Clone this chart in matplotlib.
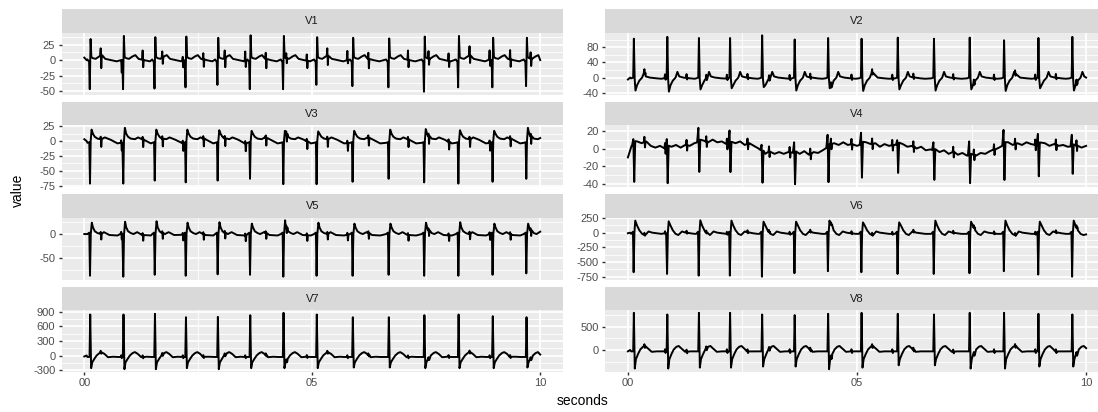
import numpy as np
import matplotlib
matplotlib.use("Agg")
import matplotlib.pyplot as plt
from matplotlib.ticker import FixedLocator

plt.rcParams['font.family'] = ['Liberation Sans', 'DejaVu Sans']

T_END = 10.0
# times (s) of the large (maternal) beats, common to all leads
beat_times = [0.13, 0.86, 1.55, 2.23, 2.93, 3.64, 4.37, 5.10, 5.89, 6.68, 7.46, 8.21, 8.96, 9.70]
# times (s) of the small (fetal) beats
fetal_times = [0.36, 0.81, 1.28, 1.71, 2.16, 2.61, 3.08, 3.53, 3.98, 4.43, 4.88, 5.33,
               5.77, 6.23, 6.66, 7.10, 7.55, 7.99, 8.45, 8.89, 9.34, 9.79]

leads = ["V1", "V2", "V3", "V4", "V5", "V6", "V7", "V8"]
x_ticks = [0, 5, 10]
x_labels = ["00", "05", "10"]

# ---- V1
v1_hi = [34, 39, 37, 38, 36, 40, 39, 37, 36, 35, 38, 39, 36, 36]
v1_lo = [-47, -47, -46, -44, -40, -47, -47, -40, -42, -44, -51, -44, -44, -42]
v1_shape_dt = [-0.06, -0.025, -0.01, 0.008, 0.025, 0.06, 0.12, 0.2, 0.26, 0.33, 0.45, 0.58]
v1_shape_v = [1, -3, "lo", "hi", 5, 3, 2, 6, 8, 2, 0, -2]
v1_f_up = [12, 0, 15, 10, 5, 10, 12, 15, 10, 8, 10, 12, 15, 10, 8, 15, 12, 12, 15, 15, 15, 10]
v1_f_dn = [-20, -20, -12, -10, -12, -12, -15, -10, -15, -8, -12, -15, -5, -15, -8, -12, -10, -10, -12, -10, -12, -12]
v1_knot_t = [0.0, 0.05, 9.97, 10.0]
v1_knot_v = [4, 0, 0, 0]
v1_ticks = [-50, -25, 0, 25]

# ---- V2
v2_hi = [102, 107, 104, 104, 111, 100, 104, 102, 105, 102, 105, 98, 104, 107]
v2_lo = [-34, -37, -31, -28, -25, -34, -28, -35, -31, -34, -31, -35, -28, -34]
v2_shape_dt = [-0.06, -0.015, 0.0, 0.018, 0.035, 0.07, 0.12, 0.18, 0.22, 0.26, 0.35, 0.5, 0.6]
v2_shape_v = [-2, 0, "hi", -5, "lo", -20, -8, 0, 15, 3, 0, -2, -3]
v2_f_up = 10
v2_f_dn = -4
v2_knot_t = [0.0, 0.05, 9.97, 10.0]
v2_knot_v = [-5, 0, 0, 0]
v2_ticks = [-40, 0, 40, 80]

# ---- V3
v3_hi = [19, 22, 19, 19, 18, 17, 17, 16, 17, 19, 20, 18, 17, 22]
v3_lo = [-71, -71, -66, -69, -66, -63, -72, -72, -68, -63, -69, -71, -68, -63]
v3_shape_dt = [-0.06, -0.02, -0.005, 0.01, 0.03, 0.06, 0.1, 0.16, 0.25, 0.32, 0.45, 0.6]
v3_shape_v = [-3, -2, "lo", 0, "hi", 12, 7, 4, 3, 6, 2, -4]
v3_f_up = 4
v3_f_dn = -13
v3_knot_t = [0.0, 0.05, 9.97, 10.0]
v3_knot_v = [3, 0, 0, 5]
v3_ticks = [-75, -50, -25, 0, 25]

# ---- V4
v4_hi = [6, 10, 16, 15, 7, 12, 14, 13, 5, 9, 16, 17, 12, 13]
v4_lo = [-43, -40, -34, -32, -35, -35, -40, -38, -32, -33, -31, -40, -36, -31]
v4_shape_dt = [-0.04, -0.012, 0.008, 0.03]
v4_shape_v = [0, "hi", "lo", 2]
v4_f_up = 6
v4_f_dn = -6
v4_knot_t = [0.0, 0.08, 0.2, 0.3, 0.4, 0.5, 0.6, 0.7, 0.8, 0.95, 1.05, 1.15, 1.25, 1.35, 1.45,
             1.65, 1.75, 1.85, 1.95, 2.05, 2.15, 2.35, 2.45, 2.55, 2.65, 2.75, 2.85, 3.0, 3.1,
             3.2, 3.3, 3.4, 3.5, 3.75, 3.85, 3.95, 4.05, 4.15, 4.25, 4.5, 4.6, 4.7, 4.8, 4.9,
             5.0, 5.2, 5.3, 5.4, 5.5, 5.6, 5.7, 5.8, 6.0, 6.1, 6.2, 6.3, 6.4, 6.5, 6.6, 6.8,
             6.9, 7.0, 7.1, 7.2, 7.3, 7.4, 7.6, 7.7, 7.8, 7.9, 8.0, 8.1, 8.3, 8.4, 8.5, 8.6,
             8.7, 8.8, 8.9, 9.1, 9.2, 9.3, 9.4, 9.5, 9.6, 9.8, 9.9, 10.0]
v4_knot_v = [-10, 3, 8, 6, 8, 3, 1, 3, 0, 2, 4, 1, 4, 3, 6,
             9, 7, 10, 7, 8, 5, 6, 8, 4, 6, 3, 0, -6, -3,
             -6, -4, -6, -4, -6, -3, -7, -4, -5, -2, 6, 4, 7, 4, 5,
             3, 7, 5, 6, 2, 5, 3, 4, 5, 2, 3, 0, 2, -2, -1, -4,
             -2, -6, -4, -7, -5, -8, -8, -5, -6, -3, -1, 1, 7, 4, 6, 4,
             7, 5, 4, 6, 3, 5, 3, 4, 2, 3, 1, 3]
v4_ticks = [-40, -20, 0, 20]

# ---- V5
v5_hi = [24, 26, 27, 24, 25, 22, 29, 24, 22, 22, 24, 25, 22, 22]
v5_lo = [-88, -90, -86, -88, -85, -86, -90, -88, -88, -86, -88, -88, -86, -83]
v5_shape_dt = [-0.06, -0.02, -0.005, 0.012, 0.035, 0.06, 0.1, 0.16, 0.22, 0.3, 0.42, 0.6]
v5_shape_v = [0, 3, "lo", 0, "hi", 14, 6, 2, 0, 4, -2, -3]
v5_f_up = 4
v5_f_dn = -12
v5_knot_t = [0.0, 0.05, 9.97, 10.0]
v5_knot_v = [0, 0, 0, 5]
v5_ticks = [-50, 0]

# ---- V6
v6_hi = [205, 193, 210, 205, 187, 187, 205, 175, 175, 205, 187, 205, 187, 205]
v6_lo = [-673, -702, -731, -731, -749, -690, -655, -673, -702, -702, -690, -655, -713, -749]
v6_shape_dt = [-0.06, -0.02, -0.005, 0.012, 0.03, 0.07, 0.12, 0.18, 0.24, 0.32, 0.4, 0.5, 0.6]
v6_shape_v = [-20, 15, "lo", 0, "hi", 120, 40, -20, -40, 20, 0, -10, -20]
v6_f_up = 35
v6_f_dn = -15
v6_knot_t = [0.0, 0.05, 9.97, 10.0]
v6_knot_v = [-10, 0, 0, -30]
v6_ticks = [-750, -500, -250, 0, 250]

# ---- V7
v7_hi = [842, 842, 856, 786, 793, 828, 877, 842, 786, 786, 828, 842, 807, 786]
v7_lo = [-260, -281, -281, -260, -281, -260, -260, -260, -246, -246, -260, -260, -260, -246]
v7_shape_dt = [-0.06, -0.015, 0.0, 0.02, 0.045, 0.09, 0.14, 0.2, 0.25, 0.31, 0.39, 0.5, 0.6]
v7_shape_v = [-30, -30, "hi", "lo", -140, -70, 0, 50, 70, 35, -35, -25, -30]
v7_f_up = 35
v7_f_dn = -25
v7_knot_t = [0.0, 0.05, 9.97, 10.0]
v7_knot_v = [-20, 0, 0, 20]
v7_ticks = [-300, 0, 300, 600, 900]

# ---- V8
v8_hi = [800, 764, 800, 800, 764, 750, 779, 800, 779, 764, 800, 800, 779, 764]
v8_lo = [-400, -400, -380, -380, -357, -357, -414, -380, -330, -330, -400, -400, -357, -357]
v8_shape_dt = [-0.06, -0.015, 0.0, 0.02, 0.045, 0.09, 0.14, 0.2, 0.25, 0.31, 0.39, 0.5, 0.6]
v8_shape_v = [-30, -30, "hi", "lo", -200, -90, 10, 70, 85, 30, -40, -30, -30]
v8_f_up = 45
v8_f_dn = -35
v8_knot_t = [0.0, 0.05, 9.97, 10.0]
v8_knot_v = [-30, 0, 0, 40]
v8_ticks = [0, 500]

lead_data = {
    "V1": (v1_hi, v1_lo, v1_shape_dt, v1_shape_v, v1_f_up, v1_f_dn, v1_knot_t, v1_knot_v, v1_ticks),
    "V2": (v2_hi, v2_lo, v2_shape_dt, v2_shape_v, v2_f_up, v2_f_dn, v2_knot_t, v2_knot_v, v2_ticks),
    "V3": (v3_hi, v3_lo, v3_shape_dt, v3_shape_v, v3_f_up, v3_f_dn, v3_knot_t, v3_knot_v, v3_ticks),
    "V4": (v4_hi, v4_lo, v4_shape_dt, v4_shape_v, v4_f_up, v4_f_dn, v4_knot_t, v4_knot_v, v4_ticks),
    "V5": (v5_hi, v5_lo, v5_shape_dt, v5_shape_v, v5_f_up, v5_f_dn, v5_knot_t, v5_knot_v, v5_ticks),
    "V6": (v6_hi, v6_lo, v6_shape_dt, v6_shape_v, v6_f_up, v6_f_dn, v6_knot_t, v6_knot_v, v6_ticks),
    "V7": (v7_hi, v7_lo, v7_shape_dt, v7_shape_v, v7_f_up, v7_f_dn, v7_knot_t, v7_knot_v, v7_ticks),
    "V8": (v8_hi, v8_lo, v8_shape_dt, v8_shape_v, v8_f_up, v8_f_dn, v8_knot_t, v8_knot_v, v8_ticks),
}


def build_trace(hi, lo, sdt, sv, f_up, f_dn, kt, kv):
    beats = np.array(beat_times)
    windows = [(b + sdt[0], b + sdt[-1]) for b in beats]
    # baseline used under the beat complexes (interior knots only)
    bt, bv = kt[1:-1], kv[1:-1]
    pts = []
    # baseline knots (first and last always kept)
    for i, (t, v) in enumerate(zip(kt, kv)):
        inside = any(a - 0.005 <= t <= e + 0.005 for a, e in windows)
        if i == 0 or i == len(kt) - 1 or not inside:
            pts.append((t, v))
    # beat complexes, placed on the baseline
    for i, b in enumerate(beats):
        for dt, v in zip(sdt, sv):
            t = b + dt
            if t <= 0 or t >= T_END:
                continue
            val = hi[i] if v == "hi" else lo[i] if v == "lo" else v
            pts.append((t, val + np.interp(t, bt, bv)))
    pts.sort()
    ut = np.array([p[0] for p in pts])
    uv = np.array([p[1] for p in pts])
    # small beats on top of the trace
    ups = f_up if isinstance(f_up, list) else [f_up] * len(fetal_times)
    dns = f_dn if isinstance(f_dn, list) else [f_dn] * len(fetal_times)
    new_pts = []
    keep = np.ones(len(ut), bool)
    for j, f in enumerate(fetal_times):
        if np.min(np.abs(beats - f)) < 0.04:
            continue
        u = float(np.interp(f, ut, uv))
        keep &= ~((ut > f - 0.015) & (ut < f + 0.03))
        new_pts += [(f - 0.012, u), (f, u + ups[j]), (f + 0.012, u + dns[j]), (f + 0.024, u)]
    pts = [(t, v) for t, v, k in zip(ut, uv, keep) if k] + new_pts
    pts.sort()
    return np.array([p[0] for p in pts]), np.array([p[1] for p in pts])


W, H = 1098.0, 412.0
fig = plt.figure(figsize=(W / 100, H / 100), dpi=100)
col_x = [(61.5, 563.0), (605.0, 1109.0)]
strip_h = 23.3
panel_h = 62.0
row_pitch = 92.5
top0 = 9.2

for idx, lead in enumerate(leads):
    row, col = divmod(idx, 2)
    x0, x1 = col_x[col]
    top = top0 + row * row_pitch
    sax = fig.add_axes([x0 / W, 1 - (top + strip_h) / H, (x1 - x0) / W, strip_h / H])
    sax.set_facecolor("#D9D9D9")
    sax.set_xticks([]); sax.set_yticks([])
    for s in sax.spines.values():
        s.set_visible(False)
    sax.text(0.5, 0.48, lead, transform=sax.transAxes, ha="center", va="center",
             fontsize=8, color="#1A1A1A")

    ax = fig.add_axes([x0 / W, 1 - (top + strip_h + panel_h) / H, (x1 - x0) / W, panel_h / H])
    ax.set_facecolor("#EBEBEB")
    for s in ax.spines.values():
        s.set_visible(False)
    hi, lo, sdt, sv, fu, fd, kt, kv, yt = lead_data[lead]
    t, v = build_trace(hi, lo, sdt, sv, fu, fd, kt, kv)
    ax.plot(t, v, color="black", lw=1.4, solid_joinstyle="round", zorder=3)
    ax.margins(x=0.05, y=0.05)
    ax.set_xlim(-0.5, 10.5)
    ylo, yhi = ax.get_ylim()
    step = yt[1] - yt[0]
    minor = [yt[0] - step / 2] + [a + step / 2 for a in yt]
    ax.yaxis.set_major_locator(FixedLocator(yt))
    ax.yaxis.set_minor_locator(FixedLocator(minor))
    ax.xaxis.set_major_locator(FixedLocator(x_ticks))
    ax.xaxis.set_minor_locator(FixedLocator([2.5, 7.5]))
    ax.set_ylim(ylo, yhi)
    ax.grid(which="major", color="white", lw=1.25)
    ax.grid(which="minor", color="white", lw=0.6)
    ax.set_axisbelow(True)
    ax.tick_params(which="minor", length=0)
    ax.tick_params(which="major", length=2.5, width=1.0, color="#333333",
                   labelsize=8, labelcolor="#4D4D4D", pad=2)
    ax.set_yticklabels([str(a) for a in yt])
    if row == 3:
        ax.set_xticklabels(x_labels)
    else:
        ax.tick_params(axis="x", which="both", length=0, labelbottom=False)

fig.text(18 / W, 1 - 190 / H, "value", rotation=90, ha="center", va="center",
         fontsize=10, color="black")
fig.text(583 / W, 1 - 401 / H, "seconds", ha="center", va="center",
         fontsize=10, color="black")

fig.savefig("out.png", dpi=100, facecolor="white")
